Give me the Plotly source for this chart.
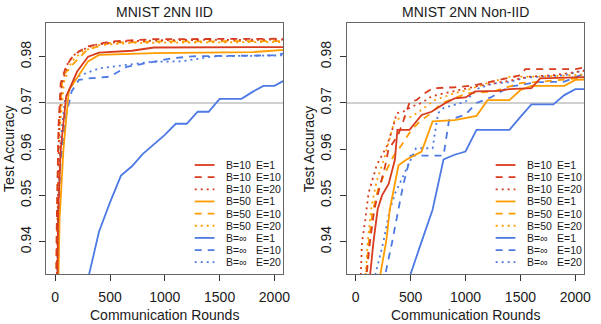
import plotly.graph_objects as go

# ---------------- data ----------------
# IID panel
iid_b10_e1_r = [10, 25, 50, 100, 200, 300, 400, 700, 900, 2100]
iid_b10_e1_a = [0.90, 0.945, 0.960, 0.9714, 0.9768, 0.9800, 0.9809, 0.9813, 0.9820, 0.9821]
iid_b10_e10_r = [5, 15, 30, 50, 100, 170, 290, 500, 900, 2100]
iid_b10_e10_a = [0.92, 0.945, 0.965, 0.9743, 0.978, 0.9804, 0.9822, 0.9833, 0.9838, 0.9839]
iid_b10_e20_r = [8, 20, 35, 60, 120, 200, 350, 600, 1000, 2100]
iid_b10_e20_a = [0.92, 0.945, 0.965, 0.974, 0.979, 0.981, 0.9825, 0.9833, 0.9836, 0.9837]
iid_b50_e1_r = [10, 20, 40, 50, 75, 125, 200, 300, 400, 900, 1800, 2100]
iid_b50_e1_a = [0.90, 0.92, 0.945, 0.949, 0.960, 0.9728, 0.9755, 0.979, 0.9804, 0.9808, 0.9810, 0.9815]
iid_b50_e10_r = [5, 15, 30, 66, 171, 291, 501, 900, 2100]
iid_b50_e10_a = [0.92, 0.945, 0.962, 0.9758, 0.9786, 0.9815, 0.9830, 0.9833, 0.9834]
iid_b50_e20_r = [8, 20, 40, 80, 150, 250, 400, 700, 2100]
iid_b50_e20_a = [0.92, 0.945, 0.964, 0.9745, 0.979, 0.9812, 0.9825, 0.9830, 0.9832]
iid_binf_e1_r = [200, 300, 400, 500, 600, 700, 800, 900, 1000, 1100, 1200, 1300, 1400,
                 1500, 1600, 1700, 1800, 1900, 2000, 2100]
iid_binf_e1_a = [0.920, 0.932, 0.9422, 0.9485, 0.9543, 0.9563, 0.9590, 0.9610, 0.9631, 0.9655,
                 0.9655, 0.9681, 0.9681, 0.9709, 0.9709, 0.9709, 0.9724, 0.9737, 0.9737, 0.9750]
iid_binf_e10_r = [20, 35, 50, 100, 150, 216, 300, 500, 650, 900, 1050, 1250, 2000, 2100]
iid_binf_e10_a = [0.93, 0.950, 0.958, 0.9674, 0.9725, 0.975, 0.9753, 0.9757, 0.9778, 0.9789,
                  0.9796, 0.9801, 0.9803, 0.9808]
iid_binf_e20_r = [15, 30, 50, 90, 200, 400, 880, 1150, 1450, 2100]
iid_binf_e20_a = [0.93, 0.95, 0.962, 0.971, 0.9757, 0.9775, 0.9789, 0.9790, 0.9801, 0.9803]

# Non-IID panel
non_b10_e1_r = [120, 132, 162, 200, 240, 300, 357, 380, 490, 600, 690, 810, 900, 1000, 1090,
                1300, 1400, 1600, 1680, 1900, 2100]
non_b10_e1_a = [0.925, 0.933, 0.940, 0.9470, 0.9500, 0.9525, 0.9577, 0.9642, 0.9642, 0.9674,
                0.9681, 0.9699, 0.9710, 0.9712, 0.9725, 0.9726, 0.9730, 0.9732, 0.9753, 0.9755, 0.9756]
non_b10_e10_r = [80, 100, 130, 170, 220, 267, 297, 387, 432, 493, 553, 628, 703, 900, 1080,
                 1170, 1290, 1500, 1544, 2000, 2100]
non_b10_e10_a = [0.925, 0.933, 0.940, 0.947, 0.952, 0.9562, 0.9598, 0.9631, 0.9660, 0.9703,
                 0.9706, 0.9721, 0.9732, 0.9734, 0.9738, 0.9743, 0.975, 0.976, 0.9773, 0.9773, 0.9778]
non_b10_e20_r = [35, 45, 57, 87, 117, 192, 283, 342, 373, 432, 508, 600, 688, 808, 898, 1078,
                 1349, 1589, 1800, 2100]
non_b10_e20_a = [0.925, 0.933, 0.9397, 0.9447, 0.9505, 0.9566, 0.9606, 0.9649, 0.9678, 0.9681,
                 0.9692, 0.970, 0.9714, 0.9721, 0.9726, 0.9735, 0.9746, 0.9757, 0.976, 0.977]
non_b50_e1_r = [210, 225, 280, 310, 390, 460, 600, 700, 900, 1000, 1100, 1200, 1400, 1500,
                1600, 1900, 2000, 2100]
non_b50_e1_a = [0.925, 0.933, 0.9404, 0.9469, 0.9565, 0.9577, 0.9595, 0.966, 0.9663, 0.9668,
                0.9672, 0.9706, 0.9706, 0.9728, 0.9737, 0.9737, 0.9750, 0.9751]
non_b50_e10_r = [80, 95, 120, 150, 200, 250, 342, 418, 508, 598, 688, 778, 898, 1018, 1258,
                 1500, 1680, 1980, 2100]
non_b50_e10_a = [0.925, 0.933, 0.940, 0.946, 0.951, 0.954, 0.9584, 0.9609, 0.9642, 0.9663,
                 0.9678, 0.9699, 0.9710, 0.9721, 0.9725, 0.9743, 0.9746, 0.9753, 0.9755]
non_b50_e20_r = [70, 90, 110, 140, 190, 260, 320, 357, 448, 508, 598, 718, 898, 1018, 1198,
                 1409, 1700, 2100]
non_b50_e20_a = [0.925, 0.933, 0.940, 0.947, 0.953, 0.958, 0.963, 0.9665, 0.9668, 0.9670,
                 0.9685, 0.9706, 0.9721, 0.9728, 0.9743, 0.9757, 0.9757, 0.9762]
non_binf_e1_r = [450, 500, 600, 700, 800, 900, 1000, 1100, 1200, 1300, 1400, 1500, 1600, 1700,
                 1800, 1900, 2000, 2100]
non_binf_e1_a = [0.925, 0.933, 0.9400, 0.9469, 0.9578, 0.9588, 0.9595, 0.9642, 0.9642, 0.9642,
                 0.9642, 0.9670, 0.9697, 0.9697, 0.9697, 0.9717, 0.9730, 0.9730]
non_binf_e10_r = [250, 270, 330, 390, 430, 500, 800, 850, 1000, 1100, 1230, 1400, 1650, 1900, 2100]
non_binf_e10_a = [0.925, 0.933, 0.9397, 0.9469, 0.952, 0.9586, 0.9586, 0.9663, 0.9675, 0.970,
                  0.9712, 0.9735, 0.9745, 0.9746, 0.9765]
non_binf_e20_r = [170, 180, 250, 310, 360, 450, 500, 550, 700, 750, 800, 1000, 1100, 1250, 1400,
                  1550, 1900, 2100]
non_binf_e20_a = [0.925, 0.933, 0.9397, 0.9469, 0.9505, 0.955, 0.9577, 0.9602, 0.9602, 0.9678,
                  0.9689, 0.9703, 0.9730, 0.9742, 0.9745, 0.9755, 0.9760, 0.9772]

batch_labels = ["B=10", "B=10", "B=10", "B=50", "B=50", "B=50", "B=\u221e", "B=\u221e", "B=\u221e"]
epoch_labels = ["E=1", "E=10", "E=20"] * 3
panel_titles = ["MNIST 2NN IID", "MNIST 2NN Non-IID"]
x_ticks = [0, 500, 1000, 1500, 2000]
y_ticks = [0.94, 0.95, 0.96, 0.97, 0.98]
ref_level = 0.97

iid_series = [(iid_b10_e1_r, iid_b10_e1_a), (iid_b10_e10_r, iid_b10_e10_a), (iid_b10_e20_r, iid_b10_e20_a),
              (iid_b50_e1_r, iid_b50_e1_a), (iid_b50_e10_r, iid_b50_e10_a), (iid_b50_e20_r, iid_b50_e20_a),
              (iid_binf_e1_r, iid_binf_e1_a), (iid_binf_e10_r, iid_binf_e10_a), (iid_binf_e20_r, iid_binf_e20_a)]
non_series = [(non_b10_e1_r, non_b10_e1_a), (non_b10_e10_r, non_b10_e10_a), (non_b10_e20_r, non_b10_e20_a),
              (non_b50_e1_r, non_b50_e1_a), (non_b50_e10_r, non_b50_e10_a), (non_b50_e20_r, non_b50_e20_a),
              (non_binf_e1_r, non_binf_e1_a), (non_binf_e10_r, non_binf_e10_a), (non_binf_e20_r, non_binf_e20_a)]

# ---------------- style ----------------
W, H = 601, 324
RED, ORANGE, BLUE = "#D83C1E", "#FF9C00", "#4D79E4"
colors = [RED] * 3 + [ORANGE] * 3 + [BLUE] * 3
dashes = ["solid", "7px,6px", "2px,4px"] * 3
LW = 1.8
FONT = "Liberation Sans, Arial, Helvetica, sans-serif"
TXT = "#1a1a1a"

# panel boxes in pixels: (left, right)
panels_px = [(47, 286.5), (351, 591)]
top_px, bot_px = 23, 274

def px_x(p):
    return p / W

def px_y(p):
    return 1 - p / H

fig = go.Figure()

for k, series in enumerate([iid_series, non_series]):
    xa = "x" if k == 0 else "x2"
    ya = "y" if k == 0 else "y2"
    order = [6, 7, 8, 3, 4, 5, 0, 1, 2]
    for i in order:
        r, a = series[i]
        fig.add_trace(go.Scatter(
            x=r, y=a, mode="lines", xaxis=xa, yaxis=ya, showlegend=False,
            name=batch_labels[i] + " " + epoch_labels[i],
            line=dict(color=colors[i], width=LW, dash=dashes[i]),
        ))

axis_common = dict(
    showline=True, mirror=True, linecolor="#666666", linewidth=1.2,
    ticks="outside", ticklen=6, tickcolor="#333333", tickwidth=1,
    showgrid=False, zeroline=False,
    tickfont=dict(family=FONT, size=14, color=TXT),
)

shapes = []
annotations = []
for k, (l, r) in enumerate(panels_px):
    suffix = "" if k == 0 else "2"
    fig.layout["xaxis" + suffix] = dict(
        axis_common, domain=[px_x(l), px_x(r)], range=[-80, 2080],
        tickvals=x_ticks, anchor="y" + suffix, ticklabelstandoff=4,
    )
    fig.layout["yaxis" + suffix] = dict(
        axis_common, domain=[px_y(bot_px), px_y(top_px)], range=[0.933, 0.9873],
        tickvals=y_ticks, ticktext=[f"{v:.2f}" for v in y_ticks], tickangle=-90,
        anchor="x" + suffix, ticklabelstandoff=3,
    )
    # reference line
    shapes.append(dict(type="line", xref="x" + suffix + " domain", yref="y" + suffix,
                       x0=0, x1=1, y0=ref_level, y1=ref_level, layer="below",
                       line=dict(color="#D0D0D0", width=2)))
    cx = (l + r) / 2
    annotations.append(dict(text=panel_titles[k], x=px_x(cx), y=px_y(12), xref="paper", yref="paper",
                            showarrow=False, xanchor="center", yanchor="middle",
                            font=dict(family=FONT, size=14, color=TXT)))
    annotations.append(dict(text="Communication Rounds", x=px_x(cx), y=px_y(315), xref="paper",
                            yref="paper", showarrow=False, xanchor="center", yanchor="middle",
                            font=dict(family=FONT, size=14, color=TXT)))
    annotations.append(dict(text="Test Accuracy", x=px_x(l - 38), y=px_y(149), xref="paper",
                            yref="paper", showarrow=False, xanchor="center", yanchor="middle",
                            textangle=-90, font=dict(family=FONT, size=14, color=TXT)))
    # manual legend
    lx0 = r - 89.5
    for i in range(9):
        yy = 165 + i * 12.15
        shapes.append(dict(type="line", xref="paper", yref="paper",
                           x0=px_x(lx0), x1=px_x(lx0 + 20), y0=px_y(yy), y1=px_y(yy),
                           line=dict(color=colors[i], width=LW, dash=dashes[i])))
        annotations.append(dict(text=batch_labels[i], x=px_x(lx0 + 30), y=px_y(yy), xref="paper",
                                yref="paper", showarrow=False, xanchor="left", yanchor="middle",
                                font=dict(family=FONT, size=10.5, color=TXT)))
        annotations.append(dict(text=epoch_labels[i], x=px_x(lx0 + 60), y=px_y(yy), xref="paper",
                                yref="paper", showarrow=False, xanchor="left", yanchor="middle",
                                font=dict(family=FONT, size=10.5, color=TXT)))

fig.update_layout(
    width=W, height=H, margin=dict(l=0, r=0, t=0, b=0),
    paper_bgcolor="white", plot_bgcolor="white",
    shapes=shapes, annotations=annotations, showlegend=False,
)

fig.write_html("out.html")
